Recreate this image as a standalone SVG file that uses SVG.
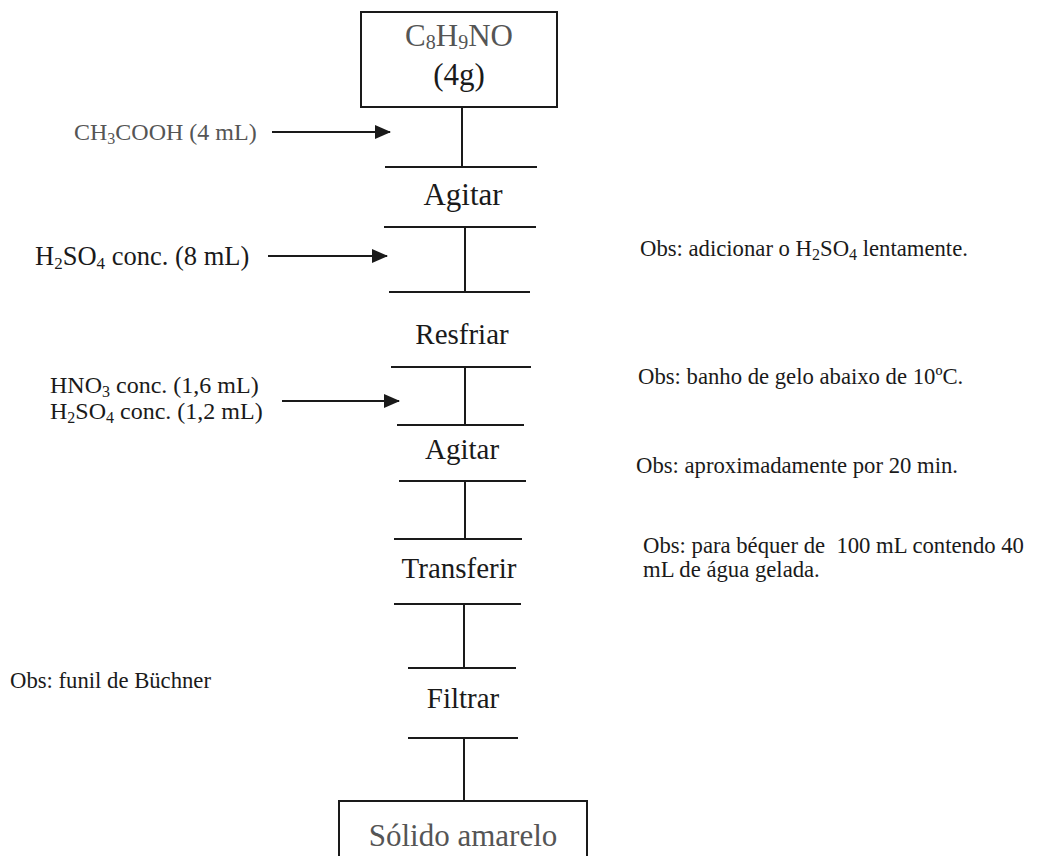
<svg xmlns="http://www.w3.org/2000/svg" width="1048" height="856" viewBox="0 0 1048 856">
  <style>
    text { font-family: "Liberation Serif", "Times New Roman", serif; fill: #1a1a1a; }
    .step { font-size: 29px; text-anchor: middle; }
    .big { font-size: 31px; text-anchor: middle; }
    .grey { fill: #555555; }
    .note { font-size: 22.7px; }
    .reag { font-size: 24px; }
    .ln { stroke: #1a1a1a; stroke-width: 2; fill: none; }
    .box { stroke: #1a1a1a; stroke-width: 2; fill: #ffffff; }
  </style>
  <defs>
    <marker id="head" markerWidth="16" markerHeight="14" refX="15" refY="7" orient="auto" markerUnits="userSpaceOnUse">
      <path d="M0,0 L16,7 L0,14 Z" fill="#1a1a1a"/>
    </marker>
  </defs>
  <rect width="1048" height="856" fill="#ffffff"/>

  <!-- connectors: vertical flow and step separators -->
  <g id="connectors">
    <line class="ln" x1="462" y1="107" x2="462" y2="167"/>
    <line class="ln" x1="385" y1="167" x2="537" y2="167"/>
    <line class="ln" x1="384" y1="227" x2="536" y2="227"/>
    <line class="ln" x1="465" y1="227" x2="465" y2="292"/>
    <line class="ln" x1="389" y1="292" x2="530" y2="292"/>
    <line class="ln" x1="391" y1="367" x2="531" y2="367"/>
    <line class="ln" x1="465" y1="367" x2="465" y2="425"/>
    <line class="ln" x1="397" y1="425" x2="524" y2="425"/>
    <line class="ln" x1="399" y1="481" x2="526" y2="481"/>
    <line class="ln" x1="465" y1="481" x2="465" y2="539"/>
    <line class="ln" x1="394" y1="539" x2="522" y2="539"/>
    <line class="ln" x1="394" y1="604" x2="521" y2="604"/>
    <line class="ln" x1="464" y1="604" x2="464" y2="668"/>
    <line class="ln" x1="408" y1="668" x2="516" y2="668"/>
    <line class="ln" x1="408" y1="738" x2="518" y2="738"/>
    <line class="ln" x1="464" y1="738" x2="464" y2="801"/>
    <!-- reagent additions -->
    <line class="ln" x1="272" y1="132" x2="390" y2="132" marker-end="url(#head)"/>
    <line class="ln" x1="268" y1="256" x2="387" y2="256" marker-end="url(#head)"/>
    <line class="ln" x1="282" y1="401" x2="399" y2="401" marker-end="url(#head)"/>
  </g>

  <g id="start">
    <rect class="box" x="361" y="12" width="196" height="95"/>
    <text class="big grey" x="459" y="46">C<tspan font-size="20" dy="3">8</tspan><tspan dy="-3">H</tspan><tspan font-size="20" dy="3">9</tspan><tspan dy="-3">NO</tspan></text>
    <text class="big" x="459" y="85">(4g)</text>
  </g>

  <g id="reagent-acetic">
    <text class="reag grey" x="74" y="140">CH<tspan font-size="16" dy="4">3</tspan><tspan dy="-4">COOH (4 mL)</tspan></text>
  </g>

  <g id="step-agitar-1">
    <text class="big" x="463" y="205">Agitar</text>
  </g>

  <g id="reagent-sulfuric">
    <text x="35" y="265" font-size="26.5">H<tspan font-size="17" dy="4">2</tspan><tspan dy="-4">SO</tspan><tspan font-size="17" dy="4">4</tspan><tspan dy="-4"> conc. (8 mL)</tspan></text>
  </g>

  <g id="note-sulfuric">
    <text class="note" x="640" y="256">Obs: adicionar o H<tspan font-size="16" dy="4">2</tspan><tspan dy="-4">SO</tspan><tspan font-size="16" dy="4">4</tspan><tspan dy="-4"> lentamente.</tspan></text>
  </g>

  <g id="step-resfriar">
    <text class="step" x="462" y="344">Resfriar</text>
  </g>

  <g id="note-resfriar">
    <text class="note" x="638" y="384">Obs: banho de gelo abaixo de 10ºC.</text>
  </g>

  <g id="reagent-nitrating">
    <text class="reag" x="50" y="393">HNO<tspan font-size="16" dy="4">3</tspan><tspan dy="-4"> conc. (1,6 mL)</tspan></text>
    <text class="reag" x="50" y="419">H<tspan font-size="16" dy="4">2</tspan><tspan dy="-4">SO</tspan><tspan font-size="16" dy="4">4</tspan><tspan dy="-4"> conc. (1,2 mL)</tspan></text>
  </g>

  <g id="step-agitar-2">
    <text class="step" x="462" y="459">Agitar</text>
  </g>

  <g id="note-agitar">
    <text class="note" x="636" y="473">Obs: aproximadamente por 20 min.</text>
  </g>

  <g id="step-transferir">
    <text class="step" x="459" y="578">Transferir</text>
  </g>

  <g id="note-transferir">
    <text class="note" x="643" y="553" xml:space="preserve">Obs: para béquer de  100 mL contendo 40</text>
    <text class="note" x="643" y="577">mL de água gelada.</text>
  </g>

  <g id="step-filtrar">
    <text class="step" x="463" y="708">Filtrar</text>
  </g>

  <g id="note-filtrar">
    <text class="note" x="10" y="688">Obs: funil de Büchner</text>
  </g>

  <g id="product">
    <rect class="box" x="339" y="801" width="248" height="80"/>
    <text class="big grey" x="463" y="846">Sólido amarelo</text>
  </g>
</svg>
